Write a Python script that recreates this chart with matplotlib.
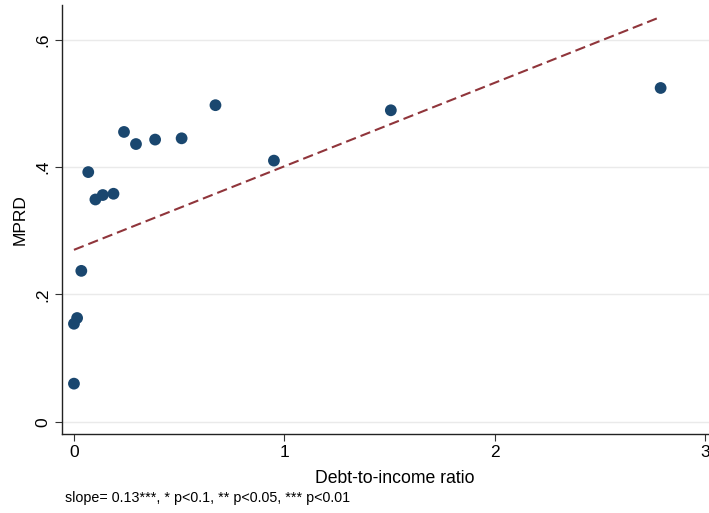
import matplotlib
matplotlib.use("Agg")
import matplotlib.pyplot as plt
import numpy as np

# ── data ──────────────────────────────────────────────────
dti = [0.0, 0.0, 0.015, 0.035, 0.068, 0.102, 0.137, 0.188, 0.238,
       0.295, 0.386, 0.512, 0.673, 0.951, 1.507, 2.79]
mprd = [0.060, 0.154, 0.163, 0.237, 0.392, 0.349, 0.356, 0.358, 0.455,
        0.436, 0.443, 0.445, 0.497, 0.410, 0.489, 0.524]
fit_intercept = 0.270
fit_slope = 0.131

yticks = [0, 0.2, 0.4, 0.6]
ytick_labels = ["0", ".2", ".4", ".6"]
xticks = [0, 1, 2, 3]
xtick_labels = ["0", "1", "2", "3"]

plt.rcParams["font.family"] = ["Liberation Sans", "DejaVu Sans"]

fig = plt.figure(figsize=(7.09, 5.13), dpi=100)
ax = fig.add_axes([0.0874, 0.154, 0.9126, 0.836])

ax.set_xlim(-0.057, 3.02)
ax.set_ylim(-0.019, 0.654)

for y in yticks:
    ax.axhline(y, color="#eaeaea", lw=1.0, zorder=0)

xs = np.array([min(dti), max(dti)])
ax.plot(xs, fit_intercept + fit_slope * xs, color="#90353b", lw=1.5,
        ls=(0, (5, 2.4)), zorder=2)
ax.scatter(dti, mprd, s=72, color="#1a476f", edgecolors="none", zorder=3)

ax.set_yticks(yticks)
ax.set_yticklabels(ytick_labels, rotation=90, va="center", fontsize=12.5)
ax.set_xticks(xticks)
ax.set_xticklabels(xtick_labels, fontsize=12.5)
ax.tick_params(axis="both", direction="out", length=5, width=0.8, color="#333333")
ax.tick_params(axis="x", pad=3)
ax.tick_params(axis="y", pad=3)

for s in ["top", "right"]:
    ax.spines[s].set_visible(False)
for s in ["left", "bottom"]:
    ax.spines[s].set_color("#222222")
    ax.spines[s].set_linewidth(1.0)

ax.set_ylabel("MPRD", fontsize=12.5)
ax.yaxis.set_label_coords(-0.053, 0.5)
ax.set_xlabel("Debt-to-income ratio", fontsize=12.7)
ax.xaxis.set_label_coords(0.515, -0.085)

fig.text(0.092, 0.030, "slope= 0.13***, * p<0.1, ** p<0.05, *** p<0.01",
         fontsize=10.3, ha="left", va="center")

fig.savefig("out.png", dpi=100)
